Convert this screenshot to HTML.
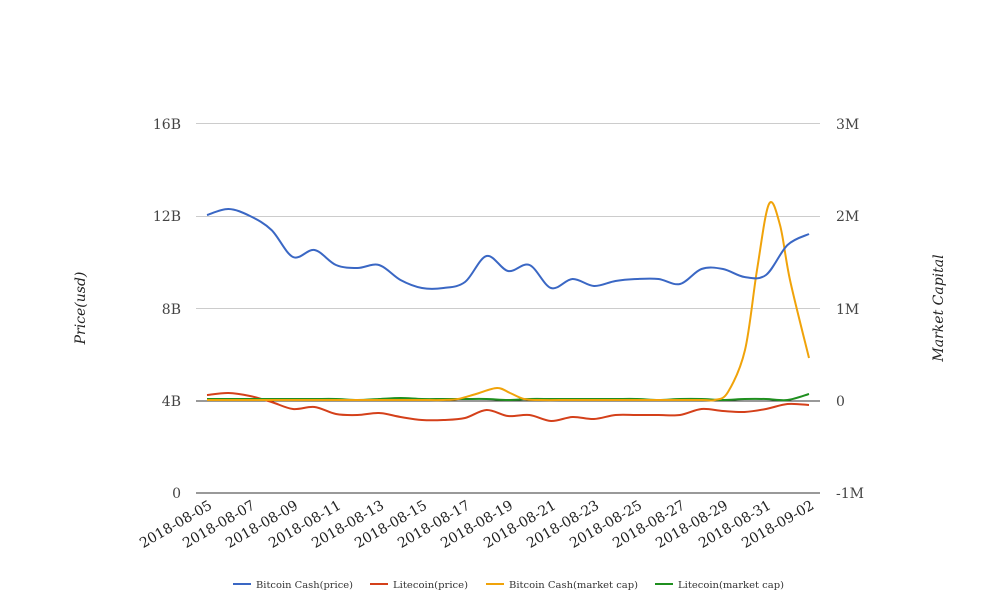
<!DOCTYPE html>
<html><head><meta charset="utf-8"><style>
body{margin:0;background:#fff;}
svg{display:block;font-family:"DejaVu Serif","Liberation Serif",serif;}
</style></head><body>
<svg id="c" width="1008" height="616" viewBox="0 0 1008 616">
<g stroke="#ccc" stroke-width="1">
<line x1="196" y1="123.5" x2="820" y2="123.5"/>
<line x1="196" y1="216.5" x2="820" y2="216.5"/>
<line x1="196" y1="308.5" x2="820" y2="308.5"/>
</g>
<line x1="196" y1="401" x2="820" y2="401" stroke="#333" stroke-width="1"/>
<line x1="196" y1="493" x2="820" y2="493" stroke="#333" stroke-width="1"/>
<g font-size="14" fill="#444" text-anchor="end">
<text x="181" y="129">16B</text><text x="181" y="221">12B</text><text x="181" y="314">8B</text><text x="181" y="406">4B</text><text x="181" y="498">0</text>
</g>
<g font-size="14" fill="#444">
<text x="836" y="129">3M</text><text x="836" y="221">2M</text><text x="836" y="314">1M</text><text x="836" y="406">0</text><text x="836" y="498">-1M</text>
</g>
<text transform="translate(85,308) rotate(-90)" font-size="14" font-style="italic" fill="#222" text-anchor="middle">Price(usd)</text>
<text transform="translate(943,308) rotate(-90)" font-size="14" font-style="italic" fill="#222" text-anchor="middle">Market Capital</text>
<g id="xl" font-size="14" fill="#222" text-anchor="end"></g>
<g id="series" fill="none" stroke-width="2"></g>
<g font-size="9" fill="#333">
<line x1="233" y1="584" x2="251" y2="584" stroke="#3a67c4" stroke-width="2"/><text x="256" y="588" textLength="97" lengthAdjust="spacingAndGlyphs">Bitcoin Cash(price)</text>
<line x1="370" y1="584" x2="388" y2="584" stroke="#d4401a" stroke-width="2"/><text x="393" y="588" textLength="75" lengthAdjust="spacingAndGlyphs">Litecoin(price)</text>
<line x1="486" y1="584" x2="504" y2="584" stroke="#f0a30a" stroke-width="2"/><text x="509" y="588" textLength="129" lengthAdjust="spacingAndGlyphs">Bitcoin Cash(market cap)</text>
<line x1="655" y1="584" x2="673" y2="584" stroke="#1f8f1f" stroke-width="2"/><text x="678" y="588" textLength="106" lengthAdjust="spacingAndGlyphs">Litecoin(market cap)</text>
</g>
</svg>
<script>
var xs=[];for(var i=0;i<29;i++)xs.push(207+21.5*i);
var xl=document.getElementById('xl'),ns='http://www.w3.org/2000/svg';
var d0=new Date(Date.UTC(2018,7,5));
for(var i=0;i<29;i+=2){var d=new Date(d0.getTime()+i*864e5);
var s=d.toISOString().slice(0,10);var t=document.createElementNS(ns,'text');
t.setAttribute('transform','translate('+(xs[i]+6)+',508) rotate(-30)');t.textContent=s;xl.appendChild(t);}
function path(pts){var d='M'+pts[0][0]+','+pts[0][1];
for(var i=0;i<pts.length-1;i++){var p0=pts[i-1]||pts[i],p1=pts[i],p2=pts[i+1],p3=pts[i+2]||p2;
var c1x=p1[0]+(p2[0]-p0[0])/6,c1y=p1[1]+(p2[1]-p0[1])/6,c2x=p2[0]-(p3[0]-p1[0])/6,c2y=p2[1]-(p3[1]-p1[1])/6;
d+=' C'+c1x+','+c1y+' '+c2x+','+c2y+' '+p2[0]+','+p2[1];}return d;}
function mk(ys){return ys.map(function(y,i){return [xs[i],y];});}
var blue=mk([215,209,216,230,257,250,265,268,265,280,288,288,282,256,271,265,288,279,286,281,279,279,284,269,269,277,275,245,234]);
var red=mk([395,393,396,402,409,407,414,415,413,417,420,420,418,410,416,415,421,417,419,415,415,415,415,409,411,412,409,404,405]);
var orng=[[207,400],[228,400],[250,400],[271,400],[293,400],[314,400],[336,400],[357,400],[379,400],[400,400],[422,400],[443,400],[458,399],[476,394],[497,388],[510,393],[524,399],[540,400],[572,400],[615,400],[659,400],[702,400],[715,400],[728,392],[745,350],[757,270],[769,204],[780,225],[790,280],[809,358]];
var green=mk([399,399,399,399,399,399,399,400,399,398,399,399,399,399,400,399,399,399,399,399,399,400,399,399,400,399,399,400,394]);
var g=document.getElementById('series');
[[red,'#d4401a'],[green,'#1f8f1f'],[orng,'#f0a30a'],[blue,'#3a67c4']].forEach(function(s){
var p=document.createElementNS(ns,'path');p.setAttribute('d',path(s[0]));p.setAttribute('stroke',s[1]);g.appendChild(p);});
</script>
</body></html>
